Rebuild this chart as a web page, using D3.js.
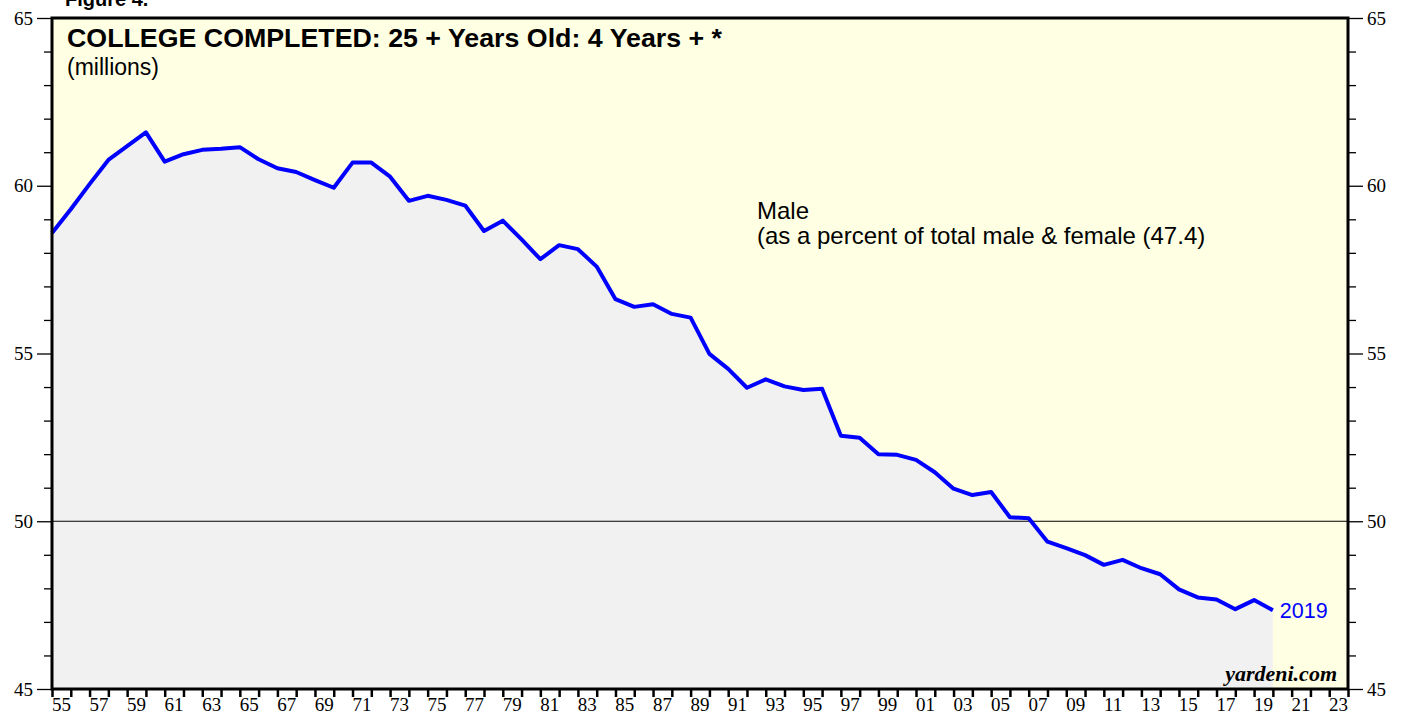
<!DOCTYPE html>
<html>
<head>
<meta charset="utf-8">
<script src="https://cdn.jsdelivr.net/npm/d3@7"></script>
<style>
  html, body { margin: 0; padding: 0; background: #fff; }
  svg { display: block; }
</style>
</head>
<body>
<div id="chart"></div>
<script>
// Male share of 25+ year olds with 4+ years of college, annual
const years = d3.range(1954, 2020);
const malePct = [
  58.59, 59.30, 60.05, 60.77, 61.18, 61.59, 60.72, 60.94, 61.07, 61.10,
  61.15, 60.79, 60.52, 60.41, 60.17, 59.94, 60.69, 60.69, 60.27, 59.55,
  59.70, 59.58, 59.41, 58.65, 58.96, 58.40, 57.81, 58.23, 58.11, 57.59,
  56.62, 56.39, 56.47, 56.18, 56.07, 54.99, 54.54, 53.98, 54.23, 54.02,
  53.91, 53.95, 52.55, 52.49, 52.00, 51.98, 51.83, 51.46, 50.97, 50.78,
  50.87, 50.12, 50.09, 49.39, 49.20, 48.99, 48.70, 48.85, 48.60, 48.42,
  47.97, 47.73, 47.67, 47.38, 47.65, 47.35
];
const yTicks = [45, 50, 55, 60, 65];
const xDomain = [1955, 2024];
const refLine = 50;

function createChart(container) {
    const width = 1407;
    const height = 719;
    const margin = { top: 18, right: 59, bottom: 30, left: 52 };
    const sans = '"Liberation Sans", Arial, sans-serif';
    const serif = '"Liberation Serif", "Times New Roman", serif';

    const data = years.map((y, i) => ({ year: y, value: malePct[i] }));

    const svg = d3.select(container)
        .append('svg')
        .attr('width', width)
        .attr('height', height);

    const x = d3.scaleLinear()
        .domain(xDomain)
        .range([margin.left, width - margin.right]);

    const y = d3.scaleLinear()
        .domain([45, 65])
        .range([height - margin.bottom, margin.top]);

    // annual points sit at the end of their year
    const px = d => x(d.year + 1);

    // Plot background
    svg.append('rect')
        .attr('x', x.range()[0])
        .attr('y', y(65))
        .attr('width', x.range()[1] - x.range()[0])
        .attr('height', y(45) - y(65))
        .attr('fill', '#ffffe3');

    // Grey area under the line
    svg.append('path')
        .datum(data)
        .attr('fill', '#f1f1f1')
        .attr('d', d3.area().x(px).y0(y(45)).y1(d => y(d.value)));

    // 50 reference line
    svg.append('line')
        .attr('x1', x.range()[0]).attr('x2', x.range()[1])
        .attr('y1', y(refLine)).attr('y2', y(refLine))
        .attr('stroke', '#000')
        .attr('stroke-width', 1);

    // Data line
    svg.append('path')
        .datum(data)
        .attr('fill', 'none')
        .attr('stroke', '#0000ff')
        .attr('stroke-width', 4)
        .attr('stroke-linejoin', 'round')
        .attr('d', d3.line().x(px).y(d => y(d.value)));

    // Y axes: major ticks labelled, minor ticks every 1
    const minor = d3.range(45, 66).filter(v => v % 5 !== 0);
    const axisFont = g => g.selectAll('text')
        .attr('font-family', serif)
        .attr('font-size', 19)
        .attr('fill', '#000');

    [[d3.axisLeft, x.range()[0]], [d3.axisRight, x.range()[1]]].forEach(([ax, pos]) => {
        svg.append('g')
            .attr('transform', `translate(${pos},0)`)
            .call(ax(y).tickValues(minor).tickSize(8).tickFormat(''))
            .call(g => g.select('.domain').remove())
            .selectAll('.tick line').attr('stroke', '#000').attr('stroke-width', 1.3);

        svg.append('g')
            .attr('transform', `translate(${pos},0)`)
            .call(ax(y).tickValues(yTicks).tickSize(15).tickPadding(4))
            .call(g => g.select('.domain').remove())
            .call(g => g.selectAll('.tick line').attr('stroke', '#000').attr('stroke-width', 1.3))
            .call(axisFont);
    });

    // X axis: tick every year, labels on odd years centred in the year
    const yearTicks = d3.range(xDomain[0], xDomain[1] + 1);
    svg.append('g')
        .attr('transform', `translate(0,${y(45)})`)
        .call(d3.axisBottom(x).tickValues(yearTicks).tickSize(8).tickFormat(''))
        .call(g => g.select('.domain').remove())
        .selectAll('.tick line').attr('stroke', '#000').attr('stroke-width', 2.5);

    const labelYears = yearTicks.filter(v => v % 2 === 1 && v < xDomain[1]);
    svg.append('g')
        .selectAll('text')
        .data(labelYears)
        .join('text')
        .attr('x', d => x(d + 0.5))
        .attr('y', y(45) + 22)
        .attr('text-anchor', 'middle')
        .attr('font-family', serif)
        .attr('font-size', 19)
        .text(d => String(d % 100).padStart(2, '0'));

    // Frame
    svg.append('rect')
        .attr('x', x.range()[0])
        .attr('y', y(65))
        .attr('width', x.range()[1] - x.range()[0])
        .attr('height', y(45) - y(65))
        .attr('fill', 'none')
        .attr('stroke', '#000')
        .attr('stroke-width', 3);

    // Texts
    svg.append('text')
        .attr('x', 65).attr('y', 6)
        .attr('font-family', sans)
        .attr('font-size', 20).attr('font-weight', 'bold')
        .text('Figure 4.');

    svg.append('text')
        .attr('x', 67).attr('y', 47)
        .attr('font-family', sans)
        .attr('font-size', 25).attr('font-weight', 'bold')
        .attr('textLength', 655).attr('lengthAdjust', 'spacingAndGlyphs')
        .text('COLLEGE COMPLETED: 25 + Years Old: 4 Years + *');

    svg.append('text')
        .attr('x', 67).attr('y', 75)
        .attr('font-family', sans)
        .attr('font-size', 23)
        .text('(millions)');

    const note = svg.append('text')
        .attr('font-family', sans)
        .attr('font-size', 24);
    note.append('tspan').attr('x', 757).attr('y', 219).text('Male');
    note.append('tspan').attr('x', 757).attr('y', 244).text('(as a percent of total male & female (47.4)');

    const last = data[data.length - 1];
    svg.append('text')
        .attr('x', px(last) + 7)
        .attr('y', y(last.value) + 8)
        .attr('font-family', sans)
        .attr('font-size', 21.5)
        .attr('fill', '#0000ff')
        .text(last.year);

    svg.append('text')
        .attr('x', 1337).attr('y', 681)
        .attr('text-anchor', 'end')
        .attr('font-family', serif)
        .attr('font-size', 22).attr('font-weight', 'bold').attr('font-style', 'italic')
        .text('yardeni.com');

    return svg.node();
}

createChart(document.getElementById('chart'));
</script>
</body>
</html>
